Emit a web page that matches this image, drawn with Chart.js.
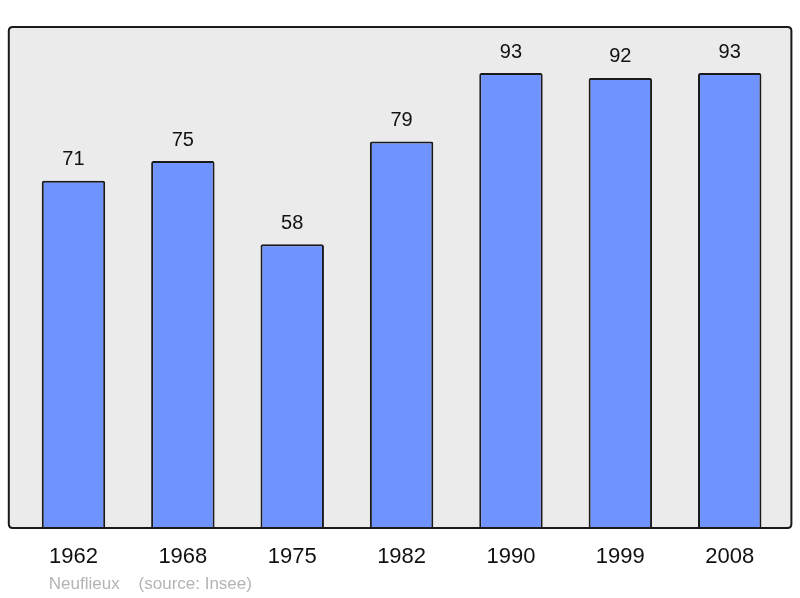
<!DOCTYPE html>
<html><head><meta charset="utf-8">
<script src="https://cdn.jsdelivr.net/npm/chart.js@4"></script>
<style>html,body{margin:0;padding:0;background:#fff}#w{width:800px;height:598px}</style>
</head><body><div id="w"><canvas id="c"></canvas></div>
<script>
const years = ['1962','1968','1975','1982','1990','1999','2008'];
const population = [71,75,58,79,93,92,93];
const yMax = 102.4;
const footerText = 'Neuflieux    (source: Insee)';

function framePath(ctx,a){
  const l=a.left-10, r=a.right+7, t=a.top, b=a.bottom, rad=4;
  ctx.beginPath();
  ctx.moveTo(l+rad,t);ctx.lineTo(r-rad,t);ctx.quadraticCurveTo(r,t,r,t+rad);
  ctx.lineTo(r,b-rad);ctx.quadraticCurveTo(r,b,r-rad,b);
  ctx.lineTo(l+rad,b);ctx.quadraticCurveTo(l,b,l,b-rad);
  ctx.lineTo(l,t+rad);ctx.quadraticCurveTo(l,t,l+rad,t);ctx.closePath();
}
const frame = {
  id:'frame',
  beforeDatasetsDraw(chart){
    const {ctx, chartArea:a} = chart;
    ctx.save(); framePath(ctx,a); ctx.fillStyle='#ebebeb';ctx.fill(); ctx.restore();
  },
  afterDatasetsDraw(chart){
    const {ctx, chartArea:a} = chart;
    ctx.save();
    framePath(ctx,a); ctx.lineWidth=2;ctx.strokeStyle='#1a1a1a';ctx.stroke();
    ctx.fillStyle='#111';ctx.font='20px "Liberation Sans", Arial, sans-serif';
    ctx.textAlign='center';ctx.textBaseline='middle';
    const meta = chart.getDatasetMeta(0);
    meta.data.forEach((el,i)=>{ ctx.fillText(String(population[i]), el.x, el.y-21); });
    ctx.fillStyle='#b4b4b4';ctx.font='17px "Liberation Sans", Arial, sans-serif';
    ctx.textAlign='left';ctx.textBaseline='middle';
    ctx.fillText(footerText, a.left+30, 584);
    ctx.restore();
  }
};

new Chart(document.getElementById('c'), {
  type:'bar',
  data:{labels:years, datasets:[{data:population, backgroundColor:'#7094ff', borderColor:'#1a1a1a', borderWidth:2, borderSkipped:'bottom', borderRadius:{topLeft:2,topRight:2,bottomLeft:0,bottomRight:0}, barPercentage:0.58, categoryPercentage:1}]},
  options:{
    responsive:true, maintainAspectRatio:false, animation:false,
    devicePixelRatio:1,
    layout:{padding:{left:18.8, right:15.6, top:27, bottom:0}},
    plugins:{legend:{display:false}, tooltip:{enabled:false}},
    scales:{
      y:{display:false, min:0, max:yMax},
      x:{offset:true, grid:{display:false, drawTicks:false}, border:{display:false},
         ticks:{color:'#111', font:{size:22, family:'"Liberation Sans", Arial, sans-serif'}, padding:16},
         afterFit(s){ s.height = 70; }}
    }
  },
  plugins:[frame]
});
</script></body></html>
